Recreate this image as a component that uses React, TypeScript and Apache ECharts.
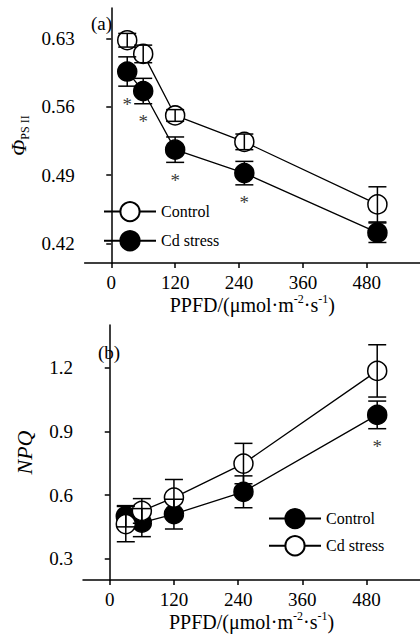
import React, { useEffect, useRef } from "react";
import * as echarts from "echarts";

// ---- data ----
const ppfd = [30, 60, 120, 250, 500];
const xTicks = [0, 120, 240, 360, 480];

// panel (a) PhiPSII
const phiTicks = [0.42, 0.49, 0.56, 0.63];
const phiControl = [0.628, 0.614, 0.551, 0.524, 0.46];
const phiControlErr = [0.007, 0.009, 0.006, 0.008, 0.018];
const phiCd = [0.596, 0.576, 0.516, 0.492, 0.431];
const phiCdErr = [0.015, 0.013, 0.013, 0.012, 0.01];
const phiSig = [true, true, true, true, false];

// panel (b) NPQ
const npqTicks = [0.3, 0.6, 0.9, 1.2];
const npqFilled = [0.5, 0.47, 0.51, 0.615, 0.977]; // legend "Control"
const npqFilledErr = [0.05, 0.066, 0.07, 0.075, 0.065];
const npqOpen = [0.463, 0.525, 0.588, 0.748, 1.184]; // legend "Cd stress"
const npqOpenErr = [0.083, 0.058, 0.085, 0.095, 0.123];
const npqSig = [false, false, false, false, true];

const FONT = "Liberation Serif, Times New Roman, serif";

function pts(vals: number[]) {
  return ppfd.map((x, i) => [x, vals[i]]);
}
function errData(vals: number[], errs: number[]) {
  return ppfd.map((x, i) => [x, vals[i] - errs[i], vals[i] + errs[i]]);
}
function sigData(vals: number[], errs: number[], sig: boolean[]) {
  return ppfd
    .map((x, i) => (sig[i] ? [x, vals[i] - errs[i]] : null))
    .filter((d) => d !== null);
}

const errRender = (params: any, api: any) => {
  const x = api.value(0);
  const lo = api.value(1);
  const hi = api.value(2);
  const pLo = api.coord([x, lo]);
  const pHi = api.coord([x, hi]);
  const hw = 9;
  const style = { stroke: "#000", lineWidth: 1.5 };
  return {
    type: "group",
    children: [
      { type: "line", shape: { x1: pLo[0], y1: pLo[1], x2: pHi[0], y2: pHi[1] }, style },
      { type: "line", shape: { x1: pLo[0] - hw, y1: pLo[1], x2: pLo[0] + hw, y2: pLo[1] }, style },
      { type: "line", shape: { x1: pHi[0] - hw, y1: pHi[1], x2: pHi[0] + hw, y2: pHi[1] }, style },
    ],
  };
};

const openStyle = { color: "#fff", borderColor: "#000", borderWidth: 1.5 };
const filledStyle = { color: "#000", borderColor: "#000", borderWidth: 1.5 };
const lineStyle = { color: "#000", width: 1.3 };

function lineSeries(name: string, vals: number[], filled: boolean, idx: number) {
  return {
    type: "line",
    name,
    xAxisIndex: idx,
    yAxisIndex: idx,
    data: pts(vals),
    symbol: "circle",
    symbolSize: 19,
    showSymbol: true,
    itemStyle: filled ? filledStyle : openStyle,
    lineStyle,
    z: filled ? 2 : 3,
    silent: true,
  };
}
function errSeries(vals: number[], errs: number[], idx: number) {
  return {
    type: "custom",
    xAxisIndex: idx,
    yAxisIndex: idx,
    data: errData(vals, errs),
    renderItem: errRender,
    encode: { x: 0, y: [1, 2] },
    z: 5,
    silent: true,
  };
}
function sigSeries(vals: number[], errs: number[], sig: boolean[], idx: number) {
  return {
    type: "scatter",
    xAxisIndex: idx,
    yAxisIndex: idx,
    data: sigData(vals, errs, sig),
    symbolSize: 1,
    itemStyle: { color: "transparent" },
    label: {
      show: true,
      formatter: "*",
      position: "bottom",
      distance: 8,
      fontSize: 19,
      fontFamily: FONT,
      color: "#000",
    },
    z: 6,
    silent: true,
  };
}

const axisLine = { show: true, lineStyle: { color: "#000", width: 1.5 } };
const labelStyle = { color: "#000", fontSize: 19, fontFamily: FONT };

function xAxis(idx: number) {
  return {
    type: "value",
    gridIndex: idx,
    min: -50,
    max: 580,
    axisLine,
    axisTick: { show: true, length: 5, customValues: xTicks, lineStyle: { color: "#000", width: 1.5 } },
    axisLabel: { ...labelStyle, margin: 10, customValues: xTicks, formatter: (v: number) => String(v) },
    splitLine: { show: false },
    name: "{n|PPFD/(μmol·m}{sup|-2}{n|·s}{sup|-1}{n|)}",
    nameLocation: "middle",
    nameGap: 30,
    nameTextStyle: {
      color: "#000",
      fontFamily: FONT,
      rich: {
        n: { fontSize: 20, fontFamily: FONT, color: "#000", lineHeight: 24 },
        sup: { fontSize: 12, fontFamily: FONT, color: "#000", lineHeight: 12, verticalAlign: "top" },
      },
    },
  };
}

export default function App() {
  const ref = useRef<HTMLDivElement>(null);
  useEffect(() => {
    if (!ref.current) return;
    const chart = echarts.init(ref.current, null, { renderer: "svg" });
    chart.setOption({
      animation: false,
      backgroundColor: "#fff",
      grid: [
        { left: 83, top: 8, width: 337, height: 255 },
        { left: 83, top: 325, width: 337, height: 255 },
      ],
      xAxis: [xAxis(0), xAxis(1)],
      yAxis: [
        {
          type: "value",
          gridIndex: 0,
          min: 0.4,
          max: 0.661,
          axisLine,
          axisTick: { show: true, length: 5, customValues: phiTicks, lineStyle: { color: "#000", width: 1.5 } },
          axisLabel: { ...labelStyle, margin: 10, customValues: phiTicks, formatter: (v: number) => v.toFixed(2) },
          splitLine: { show: false },
          name: "{phi|Φ}{sub|PS II}",
          nameLocation: "middle",
          nameRotate: 90,
          nameGap: 43,
          nameTextStyle: {
            color: "#000",
            rich: {
              phi: { fontSize: 21, fontStyle: "italic", fontFamily: FONT, color: "#000", lineHeight: 24 },
              sub: { fontSize: 12, fontFamily: FONT, color: "#000", lineHeight: 12, verticalAlign: "bottom" },
            },
          },
        },
        {
          type: "value",
          gridIndex: 1,
          min: 0.2,
          max: 1.4,
          axisLine,
          axisTick: { show: true, length: 5, customValues: npqTicks, lineStyle: { color: "#000", width: 1.5 } },
          axisLabel: { ...labelStyle, margin: 10, customValues: npqTicks, formatter: (v: number) => v.toFixed(1) },
          splitLine: { show: false },
          name: "NPQ",
          nameLocation: "middle",
          nameRotate: 90,
          nameGap: 48,
          nameTextStyle: { color: "#000", fontSize: 22, fontStyle: "italic", fontFamily: FONT },
        },
      ],
      legend: [
        {
          data: ["Control", "Cd stress"],
          left: 103,
          top: 201,
          padding: 0,
          orient: "vertical",
          itemWidth: 52,
          itemHeight: 24,
          itemGap: 8,
          selectedMode: false,
          textStyle: { color: "#000", fontSize: 16, fontFamily: FONT },
        },
        {
          data: ["Control (b)", "Cd stress (b)"],
          left: 268,
          top: 508,
          padding: 0,
          orient: "vertical",
          itemWidth: 52,
          itemHeight: 24,
          itemGap: 6,
          selectedMode: false,
          formatter: (n: string) => n.replace(" (b)", ""),
          textStyle: { color: "#000", fontSize: 16, fontFamily: FONT },
        },
      ],
      graphic: [
        { type: "text", x: 91, y: 23, style: { text: "(a)", font: `19px ${FONT}`, fill: "#000", verticalAlign: "middle" } },
        { type: "text", x: 98, y: 352, style: { text: "(b)", font: `19px ${FONT}`, fill: "#000", verticalAlign: "middle" } },
      ],
      series: [
        lineSeries("Cd stress", phiCd, true, 0),
        lineSeries("Control", phiControl, false, 0),
        errSeries(phiCd, phiCdErr, 0),
        errSeries(phiControl, phiControlErr, 0),
        sigSeries(phiCd, phiCdErr, phiSig, 0),
        lineSeries("Control (b)", npqFilled, true, 1),
        lineSeries("Cd stress (b)", npqOpen, false, 1),
        errSeries(npqFilled, npqFilledErr, 1),
        errSeries(npqOpen, npqOpenErr, 1),
        sigSeries(npqFilled, npqFilledErr, npqSig, 1),
      ],
    });
    return () => chart.dispose();
  }, []);
  return (
    <div
      ref={ref}
      style={{ position: "absolute", left: 0, top: 0, width: 420, height: 636 }}
    />
  );
}
